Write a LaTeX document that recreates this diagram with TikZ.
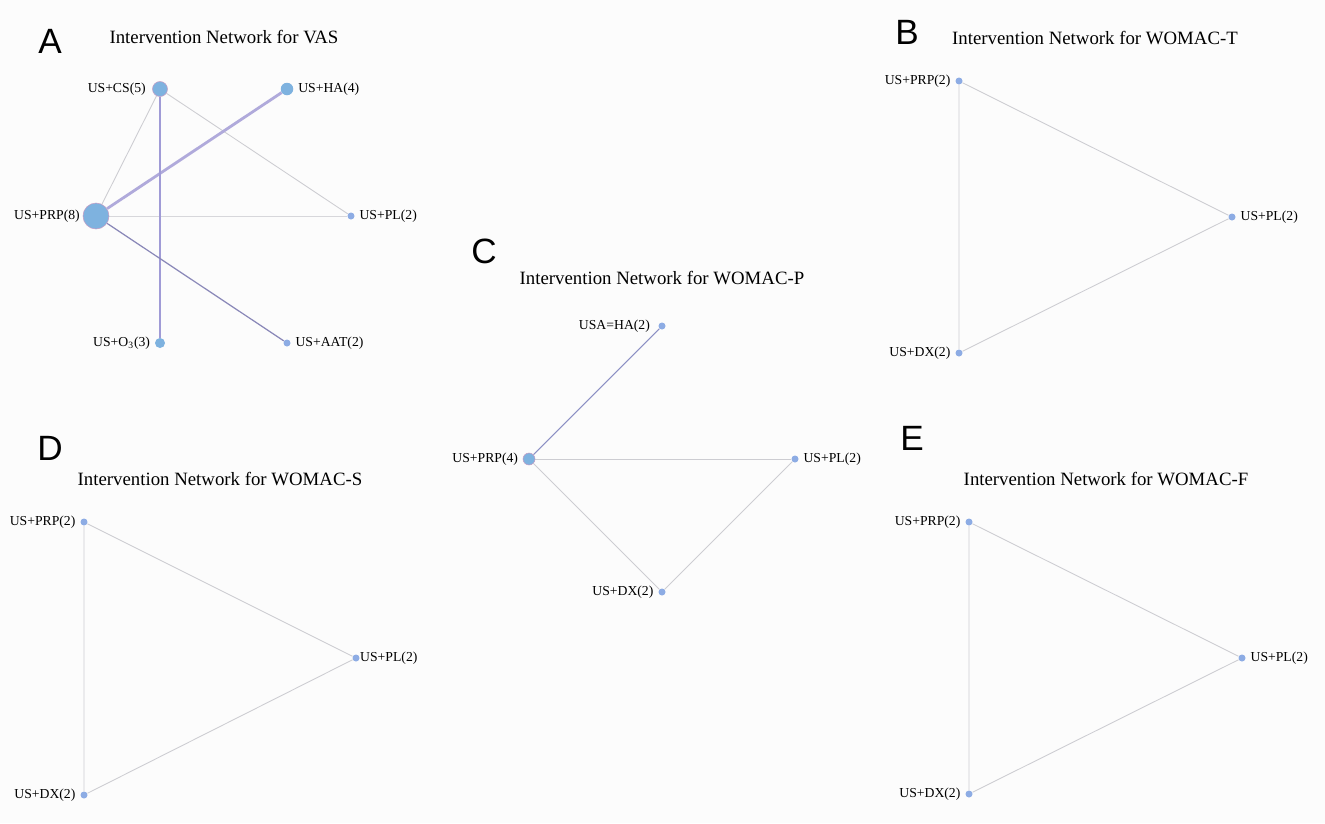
\documentclass[tikz,border=0pt]{standalone}
\usepackage{fontspec}
\setmainfont{Liberation Serif}
\newfontfamily\panelfont{Liberation Sans}
\usetikzlibrary{positioning, backgrounds}
\definecolor{ncolor}{HTML}{7EB2DF}
\definecolor{rimcolor}{HTML}{C49CC4}
\definecolor{scolor}{HTML}{8DACE4}
\definecolor{ecolor}{HTML}{CDCDD2}
\definecolor{pcolor}{HTML}{B0AADB}
\definecolor{mcolor}{HTML}{A09BD6}
\definecolor{dcolor}{HTML}{8A88B8}
\definecolor{bcolor}{HTML}{8C90C4}
\definecolor{bgcolor}{HTML}{FCFCFC}

\begin{document}
\begin{tikzpicture}[x=0.02cm, y=-0.02cm,
    big/.style={circle, fill=ncolor, draw=rimcolor, line width=0.3pt, inner sep=0pt, minimum size=#1},
    dot/.style={circle, fill=scolor, inner sep=0pt, minimum size=0.14cm},
    lbl/.style={font=\fontsize{7.8}{9}\selectfont, inner sep=1.5pt},
    ttl/.style={font=\fontsize{10.7}{12}\selectfont, inner sep=0pt},
    tag/.style={font=\panelfont\fontsize{20}{22}\selectfont, inner sep=0pt},
    lnk/.style={draw=ecolor, line width=0.5pt},
  ]
    % panel A
    \node[tag] (tagA) at (50,41) {A};
    \node[ttl] (ttlA) at (224,37) {Intervention Network for VAS};
    \node[big=0.52cm] (prpA) at (96,216) {};
    \node[big=0.30cm] (csA) at (160,89) {};
    \node[big=0.25cm, draw=none] (haA) at (287,89) {};
    \node[big=0.20cm, draw=none] (oA) at (160,343) {};
    \node[dot] (plA) at (351,216) {};
    \node[dot] (aatA) at (287,343) {};
    \node[lbl, left=0pt of prpA] (prpAl) {US+PRP(8)};
    \node[lbl, left=2pt of csA] (csAl) {US+CS(5)};
    \node[lbl, right=1pt of haA] (haAl) {US+HA(4)};
    \node[lbl, left=1pt of oA] (oAl) {US+O\textsubscript{3}(3)};
    \node[lbl, right=1pt of plA] (plAl) {US+PL(2)};
    \node[lbl, right=1pt of aatA] (aatAl) {US+AAT(2)};

    % panel B
    \node[tag] (tagB) at (907,32) {B};
    \node[ttl] (ttlB) at (1095,38) {Intervention Network for WOMAC-T};
    \node[dot] (prpB) at (959,81) {};
    \node[dot] (plB) at (1232,217) {};
    \node[dot] (dxB) at (959,353) {};
    \node[lbl, left=1pt of prpB] (prpBl) {US+PRP(2)};
    \node[lbl, right=1pt of plB] (plBl) {US+PL(2)};
    \node[lbl, left=1pt of dxB] (dxBl) {US+DX(2)};

    % panel C
    \node[tag] (tagC) at (484,251) {C};
    \node[ttl] (ttlC) at (662,278) {Intervention Network for WOMAC-P};
    \node[dot] (haC) at (662,326) {};
    \node[big=0.24cm] (prpC) at (529,459) {};
    \node[dot] (plC) at (795,459) {};
    \node[dot] (dxC) at (662,592) {};
    \node[lbl, left=3pt of haC] (haCl) {USA=HA(2)};
    \node[lbl, left=1pt of prpC] (prpCl) {US+PRP(4)};
    \node[lbl, right=1pt of plC] (plCl) {US+PL(2)};
    \node[lbl, left=1pt of dxC] (dxCl) {US+DX(2)};

    % panel D
    \node[tag] (tagD) at (50,448) {D};
    \node[ttl] (ttlD) at (220,479) {Intervention Network for WOMAC-S};
    \node[dot] (prpD) at (84,522) {};
    \node[dot] (plD) at (356,658) {};
    \node[dot] (dxD) at (84,795) {};
    \node[lbl, left=1pt of prpD] (prpDl) {US+PRP(2)};
    \node[lbl, right=-1.5pt of plD] (plDl) {US+PL(2)};
    \node[lbl, left=1pt of dxD] (dxDl) {US+DX(2)};

    % panel E
    \node[tag] (tagE) at (912,438) {E};
    \node[ttl] (ttlE) at (1106,479) {Intervention Network for WOMAC-F};
    \node[dot] (prpE) at (969,522) {};
    \node[dot] (plE) at (1242,658) {};
    \node[dot] (dxE) at (969,794) {};
    \node[lbl, left=1pt of prpE] (prpEl) {US+PRP(2)};
    \node[lbl, right=1pt of plE] (plEl) {US+PL(2)};
    \node[lbl, left=1pt of dxE] (dxEl) {US+DX(2)};

    \begin{scope}[on background layer]
      \fill[bgcolor] (0,0) rectangle (1325,823);
      \draw[lnk] (csA) -- (prpA);
      \draw[lnk] (csA) -- (plA);
      \draw[lnk, draw=ecolor!80] (prpA) -- (plA);
      \draw[draw=pcolor, line width=1.6pt] (prpA) -- (haA);
      \draw[draw=mcolor, line width=1.1pt] (csA) -- (oA);
      \draw[draw=dcolor, line width=0.7pt] (prpA) -- (aatA);
      \draw[lnk] (prpB) -- (plB) -- (dxB) -- (prpB);
      \draw[draw=bcolor, line width=0.6pt] (prpC) -- (haC);
      \draw[lnk] (prpC) -- (plC);
      \draw[lnk] (prpC) -- (dxC);
      \draw[lnk] (plC) -- (dxC);
      \draw[lnk] (prpD) -- (plD) -- (dxD) -- (prpD);
      \draw[lnk] (prpE) -- (plE) -- (dxE) -- (prpE);
    \end{scope}
  \end{tikzpicture}
\end{document}
